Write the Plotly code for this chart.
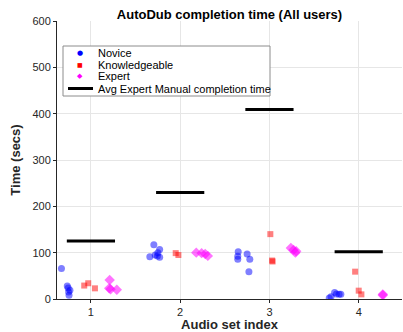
import plotly.graph_objects as go

# ---- data ----
audio_sets = [1, 2, 3, 4]
tick_labels = ["1", "2", "3", "4"]

novice_x = [0.67, 0.735, 0.745, 0.765, 0.75, 0.755,
            1.66, 1.705, 1.77, 1.72, 1.745, 1.75, 1.77,
            2.65, 2.645, 2.645, 2.75, 2.78, 2.77,
            3.67, 3.69, 3.73, 3.75, 3.78, 3.80]
novice_y = [66, 28, 24, 19, 15, 8,
            91, 117, 107, 95, 93, 100, 90,
            102, 92, 86, 97, 86, 59,
            2, 5, 14, 11, 10, 10]

knowledge_x = [0.925, 0.97, 1.045,
               1.95, 1.98,
               3.01, 3.03, 3.035,
               3.96, 4.0, 4.03]
knowledge_y = [29, 34, 23,
               99, 95,
               140, 83, 81,
               59, 18, 10]

expert_x = [1.21, 1.205, 1.22, 1.29,
            2.18, 2.24, 2.28, 2.31,
            3.24, 3.27, 3.30, 3.29,
            4.27, 4.27]
expert_y = [41, 23, 21, 20,
            100, 99, 97, 93,
            110, 106, 103, 100,
            10, 8]

avg_manual = [125, 230, 409, 102]
half_width = 0.27

# ---- figure ----
fig = go.Figure()

fig.add_trace(go.Scatter(x=novice_x, y=novice_y, mode="markers", name="Novice",
                         marker=dict(symbol="circle", size=7, color="rgba(0,0,255,0.5)",
                                     line=dict(width=0)), showlegend=False))
fig.add_trace(go.Scatter(x=knowledge_x, y=knowledge_y, mode="markers", name="Knowledgeable",
                         marker=dict(symbol="square", size=6, color="rgba(255,0,0,0.5)",
                                     line=dict(width=0)), showlegend=False))
fig.add_trace(go.Scatter(x=expert_x, y=expert_y, mode="markers", name="Expert",
                         marker=dict(symbol="diamond", size=8, color="rgba(255,0,255,0.55)",
                                     line=dict(width=0)), showlegend=False))

for s, v in zip(audio_sets, avg_manual):
    fig.add_trace(go.Scatter(x=[s - half_width, s + half_width], y=[v, v], mode="lines",
                             line=dict(color="black", width=3), showlegend=False,
                             name="Avg Expert Manual completion time"))

# ---- manual legend (MATLAB-like compact box) ----
L, T, PW, PH = 57, 21, 345, 278
def px(x):
    return (x - L) / PW
def py(y):
    return (T + PH - y) / PH

fig.add_shape(type="rect", xref="paper", yref="paper",
              x0=px(63), x1=px(270), y0=py(96), y1=py(46),
              line=dict(color="#8c8c8c", width=1), fillcolor="white", layer="above")

legend_rows = [("Novice", "●", "blue", 7),
               ("Knowledgeable", "■", "red", 6),
               ("Expert", "◆", "magenta", 7)]
row_y = [53.3, 64.5, 76.2, 88.5]
for (label, sym, col, fs), yy in zip(legend_rows, row_y):
    fig.add_annotation(x=px(80), y=py(yy), xref="paper", yref="paper", text=sym,
                       showarrow=False, font=dict(color=col, size=fs, family="DejaVu Sans"),
                       xanchor="center", yanchor="middle")
    fig.add_annotation(x=px(95.5), y=py(yy), xref="paper", yref="paper", text=label,
                       showarrow=False, font=dict(color="black", size=11,
                                                  family="Liberation Sans, Arial"),
                       xanchor="left", yanchor="middle")
fig.add_shape(type="line", xref="paper", yref="paper",
              x0=px(68), x1=px(93), y0=py(row_y[3]), y1=py(row_y[3]),
              line=dict(color="black", width=3), layer="above")
fig.add_annotation(x=px(95.5), y=py(row_y[3]), xref="paper", yref="paper",
                   text="Avg Expert Manual completion time", showarrow=False,
                   font=dict(color="black", size=11, family="Liberation Sans, Arial"),
                   xanchor="left", yanchor="middle")

fig.update_layout(
    width=403, height=332,
    margin=dict(l=L, r=403 - L - PW, t=T, b=332 - T - PH),
    paper_bgcolor="white", plot_bgcolor="white",
    font=dict(family="Liberation Sans, Arial", color="#262626", size=11),
    title=dict(text="<b>AutoDub completion time (All users)</b>", x=(L + PW / 2) / 403,
               xanchor="center", y=1 - 14 / 332, yanchor="middle",
               font=dict(size=13, color="black")),
    showlegend=False,
)
fig.update_xaxes(range=[0.62, 4.485], tickvals=audio_sets, ticktext=tick_labels,
                 showgrid=True, gridcolor="#e6e6e6", zeroline=False,
                 showline=True, linecolor="#262626", linewidth=1,
                 ticks="outside", ticklen=3, tickcolor="#262626",
                 tickfont=dict(size=11, color="#262626"),
                 title=dict(text="<b>Audio set index</b>", standoff=0,
                            font=dict(size=13, color="#262626")))
fig.update_yaxes(range=[0, 600], tickvals=[0, 100, 200, 300, 400, 500, 600],
                 showgrid=True, gridcolor="#e6e6e6", zeroline=False,
                 showline=True, linecolor="#262626", linewidth=1,
                 ticks="outside", ticklen=3, tickcolor="#262626",
                 tickfont=dict(size=11, color="#262626"),
                 title=dict(text="<b>Time (secs)</b>", standoff=8,
                            font=dict(size=13, color="#262626")))

fig.write_html("out.html", config={"displayModeBar": False},
               post_script="document.body.style.margin='0';")
